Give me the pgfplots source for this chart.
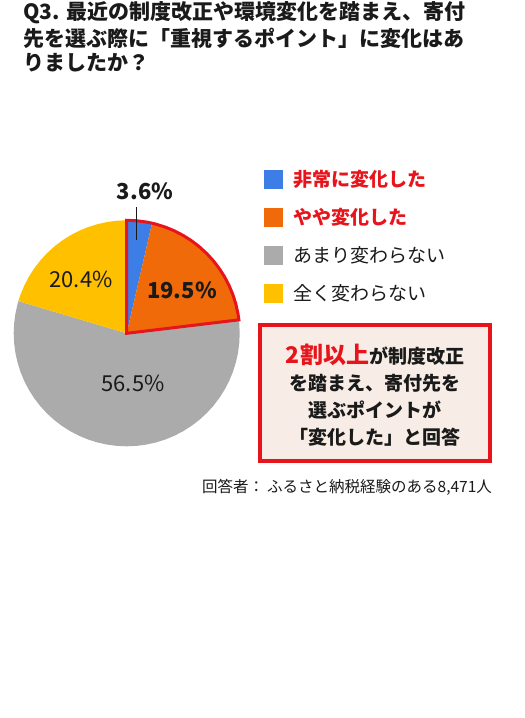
\documentclass[border=0pt]{standalone}
\usepackage{pgfplots}
\pgfplotsset{compat=1.18}
\usepackage{fontspec}
\setmainfont{Noto Sans CJK JP}
\definecolor{cblue}{HTML}{3C7DE6}
\definecolor{corange}{HTML}{F06A0A}
\definecolor{cgray}{HTML}{ABABAB}
\definecolor{cyellow}{HTML}{FFC000}
\definecolor{cred}{HTML}{E8141C}
\definecolor{boxfill}{HTML}{F8EDE6}
\definecolor{ctext}{HTML}{1A1A1A}
\begin{document}
\begin{tikzpicture}[x=1pt,y=1pt]
\path[fill=white] (0,0) rectangle (525,-718);
% title
\begin{scope}[every node/.style={anchor=west,inner sep=0pt,text=ctext,font=\fontsize{21}{25}\selectfont\bfseries}]
\node at (23,-13) {Q3. 最近の制度改正や環境変化を踏まえ、寄付};
\node at (23,-38) {先を選ぶ際に「重視するポイント」に変化はあ};
\node at (23,-63) {りましたか？};
\end{scope}
% pie
\begin{axis}[at={(126.7pt,-333.3pt)}, anchor=center, x=113pt, y=113pt,
  xmin=-1.1, xmax=1.1, ymin=-1.1, ymax=1.1, hide axis, clip=false]
\addplot[fill=cblue, draw=none, data cs=polar] coordinates {(0,0) (90,1) (85,1) (80,1) (77.04,1)} -- cycle;
\addplot[fill=corange, draw=none, data cs=polar] coordinates {(0,0) (77.04,1) (75,1) (70,1) (65,1) (60,1) (55,1) (50,1) (45,1) (40,1) (35,1) (30,1) (25,1) (20,1) (15,1) (10,1) (6.84,1)} -- cycle;
\addplot[fill=cgray, draw=none, data cs=polar] coordinates {(0,0) (6.84,1) (5,1) (0,1) (-5,1) (-10,1) (-15,1) (-20,1) (-25,1) (-30,1) (-35,1) (-40,1) (-45,1) (-50,1) (-55,1) (-60,1) (-65,1) (-70,1) (-75,1) (-80,1) (-85,1) (-90,1) (-95,1) (-100,1) (-105,1) (-110,1) (-115,1) (-120,1) (-125,1) (-130,1) (-135,1) (-140,1) (-145,1) (-150,1) (-155,1) (-160,1) (-165,1) (-170,1) (-175,1) (-180,1) (-185,1) (-190,1) (-195,1) (-196.56,1)} -- cycle;
\addplot[fill=cyellow, draw=none, data cs=polar] coordinates {(0,0) (-196.56,1) (-200,1) (-205,1) (-210,1) (-215,1) (-220,1) (-225,1) (-230,1) (-235,1) (-240,1) (-245,1) (-250,1) (-255,1) (-260,1) (-265,1) (-270,1)} -- cycle;
\addplot[draw=cred, line width=3pt, line join=miter, fill=none, data cs=polar] coordinates {(0,0) (90,1) (85,1) (80,1) (77.04,1) (75,1) (70,1) (65,1) (60,1) (55,1) (50,1) (45,1) (40,1) (35,1) (30,1) (25,1) (20,1) (15,1) (10,1) (6.84,1)} -- cycle;
\end{axis}
% labels on pie
\draw[line width=0.8pt, ctext] (136.7,-207) -- (136.7,-240);
\node[text=ctext, font=\fontsize{22}{22}\selectfont\bfseries] at (145,-191) {3.6\%};
\node[text=ctext, font=\fontsize{22}{22}\selectfont\bfseries] at (182,-290) {19.5\%};
\node[text=ctext, font=\fontsize{22}{22}\selectfont] at (81,-279) {20.4\%};
\node[text=ctext, font=\fontsize{22}{22}\selectfont] at (133,-383) {56.5\%};
% legend
\fill[cblue] (264,-170) rectangle (283,-189);
\fill[corange] (264,-208) rectangle (283,-227);
\fill[cgray] (264,-246) rectangle (283,-265);
\fill[cyellow] (264,-284) rectangle (283,-303);
\begin{scope}[every node/.style={anchor=west,inner sep=0pt,font=\fontsize{19}{23}\selectfont}]
\node[text=cred, font=\fontsize{19}{23}\selectfont\bfseries] at (293,-179.5) {非常に変化した};
\node[text=cred, font=\fontsize{19}{23}\selectfont\bfseries] at (293,-217.5) {やや変化した};
\node[text=ctext] at (293,-255.5) {あまり変わらない};
\node[text=ctext] at (293,-293.5) {全く変わらない};
\end{scope}
% box
\draw[draw=cred, line width=4pt, fill=boxfill] (260,-325) rectangle (490,-461);
\begin{scope}[every node/.style={inner sep=0pt,text=ctext,font=\fontsize{19}{23}\selectfont\bfseries}]
\node at (375,-355) {{\color{cred}\fontsize{23}{23}\selectfont 2割以上}が制度改正};
\node at (375,-383) {を踏まえ、寄付先を};
\node at (375,-410) {選ぶポイントが};
\node at (375,-437) {「変化した」と回答};
\end{scope}
% footer
\node[anchor=west, inner sep=0pt, text=ctext, font=\fontsize{15.5}{18}\selectfont] at (202,-487) {回答者：\hspace{3pt}ふるさと納税経験のある8,471人};
\end{tikzpicture}
\end{document}
